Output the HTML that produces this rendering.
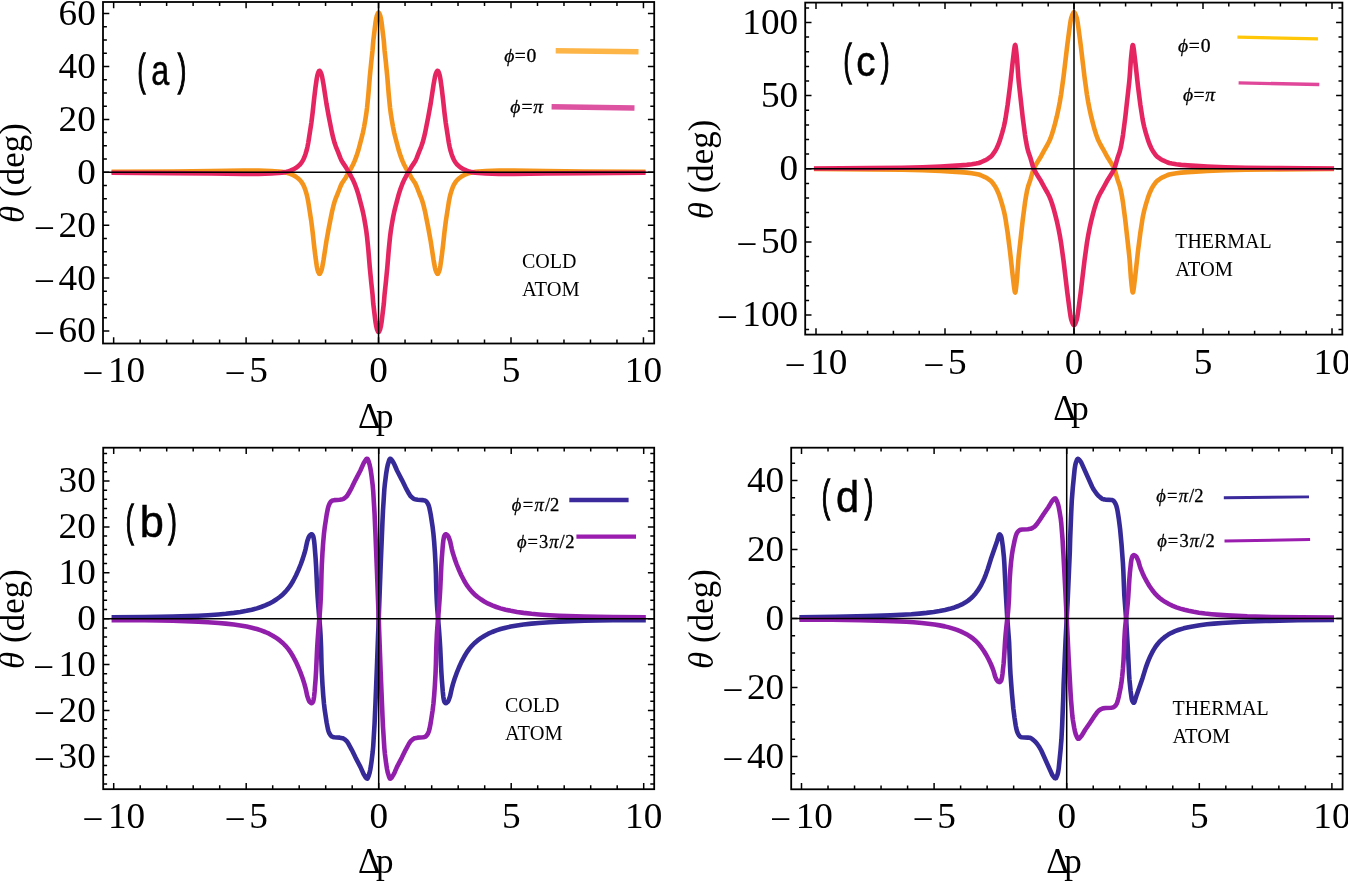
<!DOCTYPE html>
<html><head><meta charset="utf-8"><style>
html,body{margin:0;padding:0;background:#fff;}
body{width:1348px;height:882px;overflow:hidden;position:relative;}
svg{position:absolute;left:0;top:0;will-change:transform;}
.tl{font-family:"Liberation Serif",serif;font-size:35.8px;fill:#000;}
.ax{font-family:"Liberation Serif",serif;font-size:35px;fill:#000;}
.yl{font-family:"Liberation Serif",serif;font-size:35px;fill:#000;}
.pl{font-family:"Liberation Sans",sans-serif;font-size:46px;fill:#000;}
.an{font-family:"Liberation Serif",serif;font-size:20px;fill:#000;}
.lg{font-family:"Liberation Serif",serif;fill:#000;}
</style></head><body>
<svg width="1348" height="882" viewBox="0 0 1348 882">
<rect x="103" y="2" width="551.2" height="341.5" fill="none" stroke="#000" stroke-width="1.8"/>
<path d="M113.65 343.5v-6.3M113.65 2v6.3M140.14 343.5v-3.9M140.14 2v3.9M166.63 343.5v-3.9M166.63 2v3.9M193.12 343.5v-3.9M193.12 2v3.9M219.61 343.5v-3.9M219.61 2v3.9M246.1 343.5v-6.3M246.1 2v6.3M272.59 343.5v-3.9M272.59 2v3.9M299.08 343.5v-3.9M299.08 2v3.9M325.57 343.5v-3.9M325.57 2v3.9M352.06 343.5v-3.9M352.06 2v3.9M378.55 343.5v-6.3M378.55 2v6.3M405.04 343.5v-3.9M405.04 2v3.9M431.53 343.5v-3.9M431.53 2v3.9M458.02 343.5v-3.9M458.02 2v3.9M484.51 343.5v-3.9M484.51 2v3.9M511 343.5v-6.3M511 2v6.3M537.49 343.5v-3.9M537.49 2v3.9M563.98 343.5v-3.9M563.98 2v3.9M590.47 343.5v-3.9M590.47 2v3.9M616.96 343.5v-3.9M616.96 2v3.9M643.45 343.5v-6.3M643.45 2v6.3M103 331h6.3M654.2 331h-6.3M103 317.77h3.9M654.2 317.77h-3.9M103 304.55h3.9M654.2 304.55h-3.9M103 291.33h3.9M654.2 291.33h-3.9M103 278.1h6.3M654.2 278.1h-6.3M103 264.88h3.9M654.2 264.88h-3.9M103 251.65h3.9M654.2 251.65h-3.9M103 238.43h3.9M654.2 238.43h-3.9M103 225.2h6.3M654.2 225.2h-6.3M103 211.98h3.9M654.2 211.98h-3.9M103 198.75h3.9M654.2 198.75h-3.9M103 185.53h3.9M654.2 185.53h-3.9M103 172.3h6.3M654.2 172.3h-6.3M103 159.08h3.9M654.2 159.08h-3.9M103 145.85h3.9M654.2 145.85h-3.9M103 132.62h3.9M654.2 132.62h-3.9M103 119.4h6.3M654.2 119.4h-6.3M103 106.18h3.9M654.2 106.18h-3.9M103 92.95h3.9M654.2 92.95h-3.9M103 79.73h3.9M654.2 79.73h-3.9M103 66.5h6.3M654.2 66.5h-6.3M103 53.28h3.9M654.2 53.28h-3.9M103 40.05h3.9M654.2 40.05h-3.9M103 26.83h3.9M654.2 26.83h-3.9M103 13.6h6.3M654.2 13.6h-6.3" stroke="#000" stroke-width="1.5" fill="none"/>
<text transform="translate(95.8,342.4) scale(1.04,1)" text-anchor="end" class="tl"><tspan dy="3">−</tspan><tspan dx="3.6" dy="-3">60</tspan></text>
<text transform="translate(95.8,289.5) scale(1.04,1)" text-anchor="end" class="tl"><tspan dy="3">−</tspan><tspan dx="3.6" dy="-3">40</tspan></text>
<text transform="translate(95.8,236.6) scale(1.04,1)" text-anchor="end" class="tl"><tspan dy="3">−</tspan><tspan dx="3.6" dy="-3">20</tspan></text>
<text transform="translate(95.8,183.7) scale(1.04,1)" text-anchor="end" class="tl">0</text>
<text transform="translate(95.8,130.8) scale(1.04,1)" text-anchor="end" class="tl">20</text>
<text transform="translate(95.8,77.9) scale(1.04,1)" text-anchor="end" class="tl">40</text>
<text transform="translate(95.8,25) scale(1.04,1)" text-anchor="end" class="tl">60</text>
<text transform="translate(113.65,382) scale(1.04,1)" text-anchor="middle" class="tl"><tspan dy="3">−</tspan><tspan dx="4.5" dy="-3">10</tspan></text>
<text transform="translate(246.1,382) scale(1.04,1)" text-anchor="middle" class="tl"><tspan dy="3">−</tspan><tspan dx="3.6" dy="-3">5</tspan></text>
<text transform="translate(378.55,382) scale(1.04,1)" text-anchor="middle" class="tl">0</text>
<text transform="translate(511,382) scale(1.04,1)" text-anchor="middle" class="tl">5</text>
<text transform="translate(643.45,382) scale(1.04,1)" text-anchor="middle" class="tl">10</text>
<path d="M111.53 171.78L172.96 171.46L211.15 171.09L242.95 170.64L258.55 170.63L271.37 171.12L278.38 171.54L281.65 171.88L285.32 172.47L287.65 173.00L290.29 173.90L293.23 175.18L295.65 176.56L297.95 178.24L299.99 180.09L301.52 181.97L303.07 184.49L304.15 186.80L305.40 190.16L306.67 194.34L307.45 197.67L308.29 201.98L311.31 221.51L312.62 231.90L313.99 244.70L315.38 256.40L316.75 265.95L317.42 269.47L318.26 272.01L319.03 273.59L319.36 273.85L319.69 273.79L320.02 273.47L320.38 272.89L321.34 270.66L321.73 269.43L322.17 267.52L323.50 260.22L326.42 241.12L328.84 227.78L331.90 212.24L333.34 206.17L334.55 201.79L335.86 198.03L337.94 193.00L340.35 186.71L341.42 184.27L342.62 182.18L345.66 177.75L351.01 168.40L353.07 164.49L354.67 160.91L356.56 155.86L358.44 149.99L361.61 137.96L362.95 132.47L364.05 127.12L365.28 120.09L366.32 113.44L367.09 107.43L368.36 94.58L369.81 76.80L371.23 62.35L372.51 50.46L373.27 40.97L375.53 22.40L376.11 18.85L376.89 15.58L377.89 13.22L378.25 12.70L378.55 12.54L378.85 12.70L379.21 13.22L380.21 15.58L380.99 18.85L381.57 22.40L383.83 40.97L384.59 50.46L385.87 62.35L387.29 76.80L388.74 94.58L390.01 107.43L390.78 113.44L391.82 120.09L393.05 127.12L394.15 132.47L395.49 137.96L398.66 149.99L400.54 155.86L402.43 160.91L404.03 164.49L406.09 168.40L411.44 177.75L414.48 182.18L415.68 184.27L416.75 186.71L419.16 193.00L421.24 198.03L422.55 201.79L423.76 206.17L425.20 212.24L428.26 227.78L430.68 241.12L433.60 260.22L434.93 267.52L435.37 269.43L435.76 270.66L436.72 272.89L437.08 273.47L437.41 273.79L437.74 273.85L438.07 273.59L438.84 272.01L439.68 269.47L440.35 265.95L441.72 256.40L443.11 244.70L444.48 231.90L445.79 221.51L448.81 201.98L449.65 197.67L450.43 194.34L451.70 190.16L452.95 186.80L454.03 184.49L455.58 181.97L457.11 180.09L459.15 178.24L461.45 176.56L463.87 175.18L466.81 173.90L469.45 173.00L471.78 172.47L475.45 171.88L478.72 171.54L485.73 171.12L498.55 170.63L514.15 170.64L545.95 171.09L584.14 171.46L645.57 171.78" stroke="#F5941B" stroke-width="4.6" fill="none" stroke-linejoin="round" stroke-linecap="butt"/>
<path d="M111.53 172.82L172.96 173.14L211.15 173.51L242.95 173.96L258.55 173.97L271.37 173.48L278.38 173.06L281.65 172.72L285.32 172.13L287.65 171.60L290.29 170.70L293.23 169.42L295.65 168.04L297.95 166.36L299.99 164.51L301.52 162.63L303.07 160.11L304.15 157.80L305.40 154.44L306.67 150.26L307.45 146.93L308.29 142.62L311.31 123.09L312.62 112.70L313.99 99.90L315.38 88.20L316.75 78.65L317.42 75.13L318.26 72.59L319.03 71.01L319.36 70.75L319.69 70.81L320.02 71.13L320.38 71.71L321.34 73.94L321.73 75.17L322.17 77.08L323.50 84.38L326.42 103.48L328.84 116.82L331.90 132.36L333.34 138.43L334.55 142.81L335.86 146.57L337.94 151.60L340.35 157.89L341.42 160.33L342.62 162.42L345.66 166.85L351.01 176.20L353.07 180.11L354.67 183.69L356.56 188.74L358.44 194.61L361.61 206.64L362.95 212.13L364.05 217.48L365.28 224.51L366.32 231.16L367.09 237.17L368.36 250.02L369.81 267.80L371.23 282.25L372.51 294.14L373.27 303.63L375.53 322.20L376.11 325.75L376.89 329.02L377.89 331.38L378.25 331.90L378.55 332.06L378.85 331.90L379.21 331.38L380.21 329.02L380.99 325.75L381.57 322.20L383.83 303.63L384.59 294.14L385.87 282.25L387.29 267.80L388.74 250.02L390.01 237.17L390.78 231.16L391.82 224.51L393.05 217.48L394.15 212.13L395.49 206.64L398.66 194.61L400.54 188.74L402.43 183.69L404.03 180.11L406.09 176.20L411.44 166.85L414.48 162.42L415.68 160.33L416.75 157.89L419.16 151.60L421.24 146.57L422.55 142.81L423.76 138.43L425.20 132.36L428.26 116.82L430.68 103.48L433.60 84.38L434.93 77.08L435.37 75.17L435.76 73.94L436.72 71.71L437.08 71.13L437.41 70.81L437.74 70.75L438.07 71.01L438.84 72.59L439.68 75.13L440.35 78.65L441.72 88.20L443.11 99.90L444.48 112.70L445.79 123.09L448.81 142.62L449.65 146.93L450.43 150.26L451.70 154.44L452.95 157.80L454.03 160.11L455.58 162.63L457.11 164.51L459.15 166.36L461.45 168.04L463.87 169.42L466.81 170.70L469.45 171.60L471.78 172.13L475.45 172.72L478.72 173.06L485.73 173.48L498.55 173.97L514.15 173.96L545.95 173.51L584.14 173.14L645.57 172.82" stroke="#E52561" stroke-width="4.6" fill="none" stroke-linejoin="round" stroke-linecap="butt"/>
<path d="M103 172.3H654.2M378.55 2V343.5" stroke="#000" stroke-width="1.5" fill="none"/>
<rect x="805.2" y="2.6" width="537.2" height="332" fill="none" stroke="#000" stroke-width="1.8"/>
<path d="M816 334.6v-6.3M816 2.6v6.3M841.8 334.6v-3.9M841.8 2.6v3.9M867.6 334.6v-3.9M867.6 2.6v3.9M893.4 334.6v-3.9M893.4 2.6v3.9M919.2 334.6v-3.9M919.2 2.6v3.9M945 334.6v-6.3M945 2.6v6.3M970.8 334.6v-3.9M970.8 2.6v3.9M996.6 334.6v-3.9M996.6 2.6v3.9M1022.4 334.6v-3.9M1022.4 2.6v3.9M1048.2 334.6v-3.9M1048.2 2.6v3.9M1074 334.6v-6.3M1074 2.6v6.3M1099.8 334.6v-3.9M1099.8 2.6v3.9M1125.6 334.6v-3.9M1125.6 2.6v3.9M1151.4 334.6v-3.9M1151.4 2.6v3.9M1177.2 334.6v-3.9M1177.2 2.6v3.9M1203 334.6v-6.3M1203 2.6v6.3M1228.8 334.6v-3.9M1228.8 2.6v3.9M1254.6 334.6v-3.9M1254.6 2.6v3.9M1280.4 334.6v-3.9M1280.4 2.6v3.9M1306.2 334.6v-3.9M1306.2 2.6v3.9M1332 334.6v-6.3M1332 2.6v6.3M805.2 329.62h3.9M1342.4 329.62h-3.9M805.2 315h6.3M1342.4 315h-6.3M805.2 300.38h3.9M1342.4 300.38h-3.9M805.2 285.75h3.9M1342.4 285.75h-3.9M805.2 271.12h3.9M1342.4 271.12h-3.9M805.2 256.5h3.9M1342.4 256.5h-3.9M805.2 241.88h6.3M1342.4 241.88h-6.3M805.2 227.25h3.9M1342.4 227.25h-3.9M805.2 212.62h3.9M1342.4 212.62h-3.9M805.2 198h3.9M1342.4 198h-3.9M805.2 183.38h3.9M1342.4 183.38h-3.9M805.2 168.75h6.3M1342.4 168.75h-6.3M805.2 154.12h3.9M1342.4 154.12h-3.9M805.2 139.5h3.9M1342.4 139.5h-3.9M805.2 124.88h3.9M1342.4 124.88h-3.9M805.2 110.25h3.9M1342.4 110.25h-3.9M805.2 95.62h6.3M1342.4 95.62h-6.3M805.2 81h3.9M1342.4 81h-3.9M805.2 66.38h3.9M1342.4 66.38h-3.9M805.2 51.75h3.9M1342.4 51.75h-3.9M805.2 37.12h3.9M1342.4 37.12h-3.9M805.2 22.5h6.3M1342.4 22.5h-6.3M805.2 7.88h3.9M1342.4 7.88h-3.9" stroke="#000" stroke-width="1.5" fill="none"/>
<text transform="translate(798.2,326.4) scale(1.04,1)" text-anchor="end" class="tl"><tspan dy="3">−</tspan><tspan dx="4.5" dy="-3">100</tspan></text>
<text transform="translate(798.2,253.28) scale(1.04,1)" text-anchor="end" class="tl"><tspan dy="3">−</tspan><tspan dx="3.6" dy="-3">50</tspan></text>
<text transform="translate(798.2,180.15) scale(1.04,1)" text-anchor="end" class="tl">0</text>
<text transform="translate(798.2,107.03) scale(1.04,1)" text-anchor="end" class="tl">50</text>
<text transform="translate(798.2,33.9) scale(1.04,1)" text-anchor="end" class="tl">100</text>
<text transform="translate(816,374.1) scale(1.04,1)" text-anchor="middle" class="tl"><tspan dy="3">−</tspan><tspan dx="4.5" dy="-3">10</tspan></text>
<text transform="translate(945,374.1) scale(1.04,1)" text-anchor="middle" class="tl"><tspan dy="3">−</tspan><tspan dx="3.6" dy="-3">5</tspan></text>
<text transform="translate(1074,374.1) scale(1.04,1)" text-anchor="middle" class="tl">0</text>
<text transform="translate(1203,374.1) scale(1.04,1)" text-anchor="middle" class="tl">5</text>
<text transform="translate(1332,374.1) scale(1.04,1)" text-anchor="middle" class="tl">10</text>
<path d="M813.94 169.04L868.58 169.34L902.26 169.79L922.55 170.32L940.69 171.03L952.19 171.59L960.36 172.09L966.80 172.61L971.74 173.19L976.11 173.90L978.79 174.52L980.85 175.24L984.89 177.06L987.63 178.56L990.14 180.31L991.26 181.30L992.10 182.18L994.76 185.84L996.52 188.94L998.37 193.02L999.97 197.36L1002.19 204.58L1003.84 210.75L1004.73 214.70L1005.49 218.77L1007.63 232.60L1009.99 251.12L1012.60 274.77L1014.14 287.70L1014.72 291.41L1014.98 292.27L1015.21 292.47L1015.45 292.00L1015.69 290.83L1016.29 286.03L1017.21 276.44L1018.26 261.31L1018.75 255.64L1022.67 220.53L1024.95 202.97L1026.08 195.99L1027.08 190.61L1028.23 186.06L1030.57 179.20L1032.73 171.67L1033.69 168.90L1035.52 165.18L1040.32 157.59L1044.37 150.19L1047.46 144.75L1049.10 141.55L1050.52 138.27L1051.86 134.54L1053.33 129.77L1054.95 123.91L1056.78 116.65L1058.29 109.86L1059.86 101.75L1061.10 94.34L1063.49 77.09L1067.34 44.80L1069.65 27.23L1070.50 21.52L1071.21 18.07L1072.27 14.94L1073.21 12.90L1073.61 12.43L1074.00 12.26L1074.39 12.43L1074.79 12.90L1075.73 14.94L1076.79 18.07L1077.50 21.52L1078.35 27.23L1080.66 44.80L1084.51 77.09L1086.90 94.34L1088.14 101.75L1089.71 109.86L1091.22 116.65L1093.05 123.91L1094.67 129.77L1096.14 134.54L1097.48 138.27L1098.90 141.55L1100.54 144.75L1103.63 150.19L1107.68 157.59L1112.48 165.18L1114.31 168.90L1115.27 171.67L1117.43 179.20L1119.77 186.06L1120.92 190.61L1121.92 195.99L1123.05 202.97L1125.33 220.53L1129.25 255.64L1129.74 261.31L1130.79 276.44L1131.71 286.03L1132.31 290.83L1132.55 292.00L1132.79 292.47L1133.02 292.27L1133.28 291.41L1133.86 287.70L1135.40 274.77L1138.01 251.12L1140.37 232.60L1142.51 218.77L1143.27 214.70L1144.16 210.75L1145.81 204.58L1148.03 197.36L1149.63 193.02L1151.48 188.94L1153.24 185.84L1155.90 182.18L1156.74 181.30L1157.86 180.31L1160.37 178.56L1163.11 177.06L1167.15 175.24L1169.21 174.52L1171.89 173.90L1176.26 173.19L1181.20 172.61L1187.64 172.09L1195.81 171.59L1207.31 171.03L1225.45 170.32L1245.74 169.79L1279.42 169.34L1334.06 169.04" stroke="#F5941B" stroke-width="4.6" fill="none" stroke-linejoin="round" stroke-linecap="butt"/>
<path d="M813.94 168.46L868.58 168.16L902.26 167.71L922.55 167.18L940.69 166.47L952.19 165.91L960.36 165.41L966.80 164.89L971.74 164.31L976.11 163.60L978.79 162.98L980.85 162.26L984.89 160.44L987.63 158.94L990.14 157.19L991.26 156.20L992.10 155.32L994.76 151.66L996.52 148.56L998.37 144.48L999.97 140.14L1002.19 132.92L1003.84 126.75L1004.73 122.80L1005.49 118.73L1007.63 104.90L1009.99 86.38L1012.60 62.73L1014.14 49.80L1014.72 46.09L1014.98 45.23L1015.21 45.03L1015.45 45.50L1015.69 46.67L1016.29 51.47L1017.21 61.06L1018.26 76.19L1018.75 81.86L1022.67 116.97L1024.95 134.53L1026.08 141.51L1027.08 146.89L1028.23 151.44L1030.57 158.30L1032.73 165.83L1033.69 168.60L1035.52 172.32L1040.32 179.91L1044.37 187.31L1047.46 192.75L1049.10 195.95L1050.52 199.23L1051.86 202.96L1053.33 207.73L1054.95 213.59L1056.78 220.85L1058.29 227.64L1059.86 235.75L1061.10 243.16L1063.49 260.41L1067.34 292.70L1069.65 310.27L1070.50 315.98L1071.21 319.43L1072.27 322.56L1073.21 324.60L1073.61 325.07L1074.00 325.24L1074.39 325.07L1074.79 324.60L1075.73 322.56L1076.79 319.43L1077.50 315.98L1078.35 310.27L1080.66 292.70L1084.51 260.41L1086.90 243.16L1088.14 235.75L1089.71 227.64L1091.22 220.85L1093.05 213.59L1094.67 207.73L1096.14 202.96L1097.48 199.23L1098.90 195.95L1100.54 192.75L1103.63 187.31L1107.68 179.91L1112.48 172.32L1114.31 168.60L1115.27 165.83L1117.43 158.30L1119.77 151.44L1120.92 146.89L1121.92 141.51L1123.05 134.53L1125.33 116.97L1129.25 81.86L1129.74 76.19L1130.79 61.06L1131.71 51.47L1132.31 46.67L1132.55 45.50L1132.79 45.03L1133.02 45.23L1133.28 46.09L1133.86 49.80L1135.40 62.73L1138.01 86.38L1140.37 104.90L1142.51 118.73L1143.27 122.80L1144.16 126.75L1145.81 132.92L1148.03 140.14L1149.63 144.48L1151.48 148.56L1153.24 151.66L1155.90 155.32L1156.74 156.20L1157.86 157.19L1160.37 158.94L1163.11 160.44L1167.15 162.26L1169.21 162.98L1171.89 163.60L1176.26 164.31L1181.20 164.89L1187.64 165.41L1195.81 165.91L1207.31 166.47L1225.45 167.18L1245.74 167.71L1279.42 168.16L1334.06 168.46" stroke="#E52561" stroke-width="4.6" fill="none" stroke-linejoin="round" stroke-linecap="butt"/>
<path d="M805.2 168.75H1342.4M1074 2.6V334.6" stroke="#000" stroke-width="1.5" fill="none"/>
<rect x="103.2" y="447.7" width="551" height="341.5" fill="none" stroke="#000" stroke-width="1.8"/>
<path d="M113.7 789.2v-6.3M113.7 447.7v6.3M140.2 789.2v-3.9M140.2 447.7v3.9M166.7 789.2v-3.9M166.7 447.7v3.9M193.2 789.2v-3.9M193.2 447.7v3.9M219.7 789.2v-3.9M219.7 447.7v3.9M246.2 789.2v-6.3M246.2 447.7v6.3M272.7 789.2v-3.9M272.7 447.7v3.9M299.2 789.2v-3.9M299.2 447.7v3.9M325.7 789.2v-3.9M325.7 447.7v3.9M352.2 789.2v-3.9M352.2 447.7v3.9M378.7 789.2v-6.3M378.7 447.7v6.3M405.2 789.2v-3.9M405.2 447.7v3.9M431.7 789.2v-3.9M431.7 447.7v3.9M458.2 789.2v-3.9M458.2 447.7v3.9M484.7 789.2v-3.9M484.7 447.7v3.9M511.2 789.2v-6.3M511.2 447.7v6.3M537.7 789.2v-3.9M537.7 447.7v3.9M564.2 789.2v-3.9M564.2 447.7v3.9M590.7 789.2v-3.9M590.7 447.7v3.9M617.2 789.2v-3.9M617.2 447.7v3.9M643.7 789.2v-6.3M643.7 447.7v6.3M103.2 783.94h3.9M654.2 783.94h-3.9M103.2 774.76h3.9M654.2 774.76h-3.9M103.2 765.58h3.9M654.2 765.58h-3.9M103.2 756.4h6.3M654.2 756.4h-6.3M103.2 747.22h3.9M654.2 747.22h-3.9M103.2 738.04h3.9M654.2 738.04h-3.9M103.2 728.86h3.9M654.2 728.86h-3.9M103.2 719.68h3.9M654.2 719.68h-3.9M103.2 710.5h6.3M654.2 710.5h-6.3M103.2 701.32h3.9M654.2 701.32h-3.9M103.2 692.14h3.9M654.2 692.14h-3.9M103.2 682.96h3.9M654.2 682.96h-3.9M103.2 673.78h3.9M654.2 673.78h-3.9M103.2 664.6h6.3M654.2 664.6h-6.3M103.2 655.42h3.9M654.2 655.42h-3.9M103.2 646.24h3.9M654.2 646.24h-3.9M103.2 637.06h3.9M654.2 637.06h-3.9M103.2 627.88h3.9M654.2 627.88h-3.9M103.2 618.7h6.3M654.2 618.7h-6.3M103.2 609.52h3.9M654.2 609.52h-3.9M103.2 600.34h3.9M654.2 600.34h-3.9M103.2 591.16h3.9M654.2 591.16h-3.9M103.2 581.98h3.9M654.2 581.98h-3.9M103.2 572.8h6.3M654.2 572.8h-6.3M103.2 563.62h3.9M654.2 563.62h-3.9M103.2 554.44h3.9M654.2 554.44h-3.9M103.2 545.26h3.9M654.2 545.26h-3.9M103.2 536.08h3.9M654.2 536.08h-3.9M103.2 526.9h6.3M654.2 526.9h-6.3M103.2 517.72h3.9M654.2 517.72h-3.9M103.2 508.54h3.9M654.2 508.54h-3.9M103.2 499.36h3.9M654.2 499.36h-3.9M103.2 490.18h3.9M654.2 490.18h-3.9M103.2 481h6.3M654.2 481h-6.3M103.2 471.82h3.9M654.2 471.82h-3.9M103.2 462.64h3.9M654.2 462.64h-3.9M103.2 453.46h3.9M654.2 453.46h-3.9" stroke="#000" stroke-width="1.5" fill="none"/>
<text transform="translate(95.8,767.8) scale(1.04,1)" text-anchor="end" class="tl"><tspan dy="3">−</tspan><tspan dx="3.6" dy="-3">30</tspan></text>
<text transform="translate(95.8,721.9) scale(1.04,1)" text-anchor="end" class="tl"><tspan dy="3">−</tspan><tspan dx="3.6" dy="-3">20</tspan></text>
<text transform="translate(95.8,676) scale(1.04,1)" text-anchor="end" class="tl"><tspan dy="3">−</tspan><tspan dx="4.5" dy="-3">10</tspan></text>
<text transform="translate(95.8,630.1) scale(1.04,1)" text-anchor="end" class="tl">0</text>
<text transform="translate(95.8,584.2) scale(1.04,1)" text-anchor="end" class="tl">10</text>
<text transform="translate(95.8,538.3) scale(1.04,1)" text-anchor="end" class="tl">20</text>
<text transform="translate(95.8,492.4) scale(1.04,1)" text-anchor="end" class="tl">30</text>
<text transform="translate(113.7,827.7) scale(1.04,1)" text-anchor="middle" class="tl"><tspan dy="3">−</tspan><tspan dx="4.5" dy="-3">10</tspan></text>
<text transform="translate(246.2,827.7) scale(1.04,1)" text-anchor="middle" class="tl"><tspan dy="3">−</tspan><tspan dx="3.6" dy="-3">5</tspan></text>
<text transform="translate(378.7,827.7) scale(1.04,1)" text-anchor="middle" class="tl">0</text>
<text transform="translate(511.2,827.7) scale(1.04,1)" text-anchor="middle" class="tl">5</text>
<text transform="translate(643.7,827.7) scale(1.04,1)" text-anchor="middle" class="tl">10</text>
<path d="M111.58 617.32L144.47 617.11L159.70 616.91L172.91 616.61L198.23 615.73L207.92 615.19L218.47 614.44L225.79 613.78L233.82 612.85L240.34 611.92L246.58 610.82L251.80 609.69L256.89 608.35L261.04 607.01L265.23 605.40L269.10 603.68L272.75 601.71L276.62 599.27L280.04 596.75L283.05 594.15L285.54 591.62L288.14 588.52L290.63 585.08L293.09 580.95L296.06 575.26L298.48 569.91L300.87 564.00L302.78 558.64L304.46 553.30L305.53 549.35L307.27 541.33L308.65 537.38L309.36 535.95L310.05 535.16L311.19 534.36L311.69 534.24L312.01 534.34L312.60 534.99L313.17 536.06L313.56 537.63L314.04 540.32L314.60 545.61L315.62 558.45L316.12 566.72L317.11 587.99L317.59 596.20L318.37 607.18L320.04 627.23L320.55 634.98L321.09 647.39L321.49 663.76L321.83 672.79L322.47 684.71L323.24 695.51L323.99 703.83L324.75 710.15L326.65 722.65L327.87 728.88L328.54 731.39L329.45 733.58L330.56 735.30L331.20 736.03L331.74 736.49L332.85 736.94L334.30 737.27L339.76 737.66L342.51 738.15L343.53 738.60L344.65 739.33L346.24 740.67L347.02 741.51L348.50 743.80L351.76 749.85L355.54 757.57L360.39 766.90L363.58 774.06L365.87 777.73L366.56 778.43L367.17 778.66L367.46 778.53L367.77 778.13L368.47 776.45L369.60 772.77L370.30 769.50L370.99 765.47L371.66 760.47L372.67 752.11L373.20 746.35L374.55 724.02L375.43 704.12L377.10 662.66L380.73 563.68L382.48 521.37L382.99 510.76L384.32 489.54L384.87 483.99L386.12 473.98L386.94 468.77L387.78 464.73L389.17 460.28L389.63 459.27L390.06 458.79L390.32 458.74L390.68 458.87L391.41 459.52L392.14 460.55L393.78 463.27L394.63 465.01L397.01 470.50L401.86 479.83L405.65 487.57L408.91 493.62L410.39 495.91L411.20 496.76L412.77 498.08L413.87 498.80L414.89 499.25L417.64 499.74L423.09 500.13L424.52 500.45L425.64 500.90L426.17 501.34L426.80 502.05L427.92 503.77L428.85 505.97L429.51 508.46L430.73 514.67L432.64 527.16L433.40 533.44L434.15 541.73L434.92 552.47L435.57 564.61L435.91 573.64L436.31 590.01L436.87 602.65L437.36 610.17L439.03 630.22L439.81 641.20L440.29 649.41L441.28 670.68L441.78 678.95L442.80 691.79L443.36 697.08L443.84 699.77L444.23 701.34L444.80 702.41L445.39 703.06L445.71 703.16L446.21 703.04L447.35 702.24L448.04 701.45L448.75 700.02L450.13 696.07L451.87 688.05L452.94 684.10L454.62 678.76L456.53 673.40L458.92 667.49L461.34 662.14L464.31 656.45L466.77 652.32L469.26 648.88L471.86 645.78L474.35 643.25L477.36 640.65L480.78 638.13L484.65 635.69L488.30 633.72L492.17 632.00L496.36 630.39L500.51 629.05L505.60 627.71L510.82 626.58L517.06 625.48L523.58 624.55L531.61 623.62L538.93 622.96L549.48 622.21L559.16 621.67L584.49 620.79L597.70 620.49L612.93 620.29L645.82 620.08" stroke="#352A97" stroke-width="4.6" fill="none" stroke-linejoin="round" stroke-linecap="butt"/>
<path d="M111.58 620.08L144.47 620.29L159.70 620.49L172.91 620.79L198.23 621.67L207.92 622.21L218.47 622.96L225.79 623.62L233.82 624.55L240.34 625.48L246.58 626.58L251.80 627.71L256.89 629.05L261.04 630.39L265.23 632.00L269.10 633.72L272.75 635.69L276.62 638.13L280.04 640.65L283.05 643.25L285.54 645.78L288.14 648.88L290.63 652.32L293.09 656.45L296.06 662.14L298.48 667.49L300.87 673.40L302.78 678.76L304.46 684.10L305.53 688.05L307.27 696.07L308.65 700.02L309.36 701.45L310.05 702.24L311.19 703.04L311.69 703.16L312.01 703.06L312.60 702.41L313.17 701.34L313.56 699.77L314.04 697.08L314.60 691.79L315.62 678.95L316.12 670.68L317.11 649.41L317.59 641.20L318.37 630.22L320.04 610.17L320.55 602.42L321.09 590.01L321.49 573.64L321.83 564.61L322.47 552.69L323.24 541.89L323.99 533.57L324.75 527.25L326.65 514.75L327.87 508.52L328.54 506.01L329.45 503.82L330.56 502.10L331.20 501.37L331.74 500.91L332.85 500.46L334.30 500.13L339.76 499.74L342.51 499.25L343.53 498.80L344.65 498.07L346.24 496.73L347.02 495.89L348.50 493.60L351.76 487.55L355.54 479.83L360.39 470.50L363.58 463.34L365.87 459.67L366.56 458.97L367.17 458.74L367.46 458.87L367.77 459.27L368.47 460.95L369.60 464.63L370.30 467.90L370.99 471.93L371.66 476.93L372.67 485.29L373.20 491.05L374.55 513.38L375.43 533.28L377.10 574.74L380.73 673.72L382.48 716.03L382.99 726.64L384.32 747.86L384.87 753.41L386.12 763.42L386.94 768.63L387.78 772.67L389.17 777.12L389.63 778.13L390.06 778.61L390.32 778.66L390.68 778.53L391.41 777.88L392.14 776.85L393.78 774.13L394.63 772.39L397.01 766.90L401.86 757.57L405.65 749.83L408.91 743.78L410.39 741.49L411.20 740.64L412.77 739.32L413.87 738.60L414.89 738.15L417.64 737.66L423.09 737.27L424.52 736.95L425.64 736.50L426.17 736.06L426.80 735.35L427.92 733.63L428.85 731.43L429.51 728.94L430.73 722.73L432.64 710.24L433.40 703.96L434.15 695.67L434.92 684.93L435.57 672.79L435.91 663.76L436.31 647.39L436.87 634.75L437.36 627.23L439.03 607.18L439.81 596.20L440.29 587.99L441.28 566.72L441.78 558.45L442.80 545.61L443.36 540.32L443.84 537.63L444.23 536.06L444.80 534.99L445.39 534.34L445.71 534.24L446.21 534.36L447.35 535.16L448.04 535.95L448.75 537.38L450.13 541.33L451.87 549.35L452.94 553.30L454.62 558.64L456.53 564.00L458.92 569.91L461.34 575.26L464.31 580.95L466.77 585.08L469.26 588.52L471.86 591.62L474.35 594.15L477.36 596.75L480.78 599.27L484.65 601.71L488.30 603.68L492.17 605.40L496.36 607.01L500.51 608.35L505.60 609.69L510.82 610.82L517.06 611.92L523.58 612.85L531.61 613.78L538.93 614.44L549.48 615.19L559.16 615.73L584.49 616.61L597.70 616.91L612.93 617.11L645.82 617.32" stroke="#921FAB" stroke-width="4.6" fill="none" stroke-linejoin="round" stroke-linecap="butt"/>
<path d="M103.2 618.7H654.2M378.7 447.7V789.2" stroke="#000" stroke-width="1.5" fill="none"/>
<rect x="791.2" y="447.7" width="551.4" height="341.6" fill="none" stroke="#000" stroke-width="1.8"/>
<path d="M801.5 789.3v-6.3M801.5 447.7v6.3M828.02 789.3v-3.9M828.02 447.7v3.9M854.54 789.3v-3.9M854.54 447.7v3.9M881.06 789.3v-3.9M881.06 447.7v3.9M907.58 789.3v-3.9M907.58 447.7v3.9M934.1 789.3v-6.3M934.1 447.7v6.3M960.62 789.3v-3.9M960.62 447.7v3.9M987.14 789.3v-3.9M987.14 447.7v3.9M1013.66 789.3v-3.9M1013.66 447.7v3.9M1040.18 789.3v-3.9M1040.18 447.7v3.9M1066.7 789.3v-6.3M1066.7 447.7v6.3M1093.22 789.3v-3.9M1093.22 447.7v3.9M1119.74 789.3v-3.9M1119.74 447.7v3.9M1146.26 789.3v-3.9M1146.26 447.7v3.9M1172.78 789.3v-3.9M1172.78 447.7v3.9M1199.3 789.3v-6.3M1199.3 447.7v6.3M1225.82 789.3v-3.9M1225.82 447.7v3.9M1252.34 789.3v-3.9M1252.34 447.7v3.9M1278.86 789.3v-3.9M1278.86 447.7v3.9M1305.38 789.3v-3.9M1305.38 447.7v3.9M1331.9 789.3v-6.3M1331.9 447.7v6.3M791.2 773.85h3.9M1342.6 773.85h-3.9M791.2 756.6h6.3M1342.6 756.6h-6.3M791.2 739.35h3.9M1342.6 739.35h-3.9M791.2 722.1h3.9M1342.6 722.1h-3.9M791.2 704.85h3.9M1342.6 704.85h-3.9M791.2 687.6h6.3M1342.6 687.6h-6.3M791.2 670.35h3.9M1342.6 670.35h-3.9M791.2 653.1h3.9M1342.6 653.1h-3.9M791.2 635.85h3.9M1342.6 635.85h-3.9M791.2 618.6h6.3M1342.6 618.6h-6.3M791.2 601.35h3.9M1342.6 601.35h-3.9M791.2 584.1h3.9M1342.6 584.1h-3.9M791.2 566.85h3.9M1342.6 566.85h-3.9M791.2 549.6h6.3M1342.6 549.6h-6.3M791.2 532.35h3.9M1342.6 532.35h-3.9M791.2 515.1h3.9M1342.6 515.1h-3.9M791.2 497.85h3.9M1342.6 497.85h-3.9M791.2 480.6h6.3M1342.6 480.6h-6.3M791.2 463.35h3.9M1342.6 463.35h-3.9" stroke="#000" stroke-width="1.5" fill="none"/>
<text transform="translate(784.2,768) scale(1.04,1)" text-anchor="end" class="tl"><tspan dy="3">−</tspan><tspan dx="3.6" dy="-3">40</tspan></text>
<text transform="translate(784.2,699) scale(1.04,1)" text-anchor="end" class="tl"><tspan dy="3">−</tspan><tspan dx="3.6" dy="-3">20</tspan></text>
<text transform="translate(784.2,630) scale(1.04,1)" text-anchor="end" class="tl">0</text>
<text transform="translate(784.2,561) scale(1.04,1)" text-anchor="end" class="tl">20</text>
<text transform="translate(784.2,492) scale(1.04,1)" text-anchor="end" class="tl">40</text>
<text transform="translate(801.5,827.8) scale(1.04,1)" text-anchor="middle" class="tl"><tspan dy="3">−</tspan><tspan dx="4.5" dy="-3">10</tspan></text>
<text transform="translate(934.1,827.8) scale(1.04,1)" text-anchor="middle" class="tl"><tspan dy="3">−</tspan><tspan dx="3.6" dy="-3">5</tspan></text>
<text transform="translate(1066.7,827.8) scale(1.04,1)" text-anchor="middle" class="tl">0</text>
<text transform="translate(1199.3,827.8) scale(1.04,1)" text-anchor="middle" class="tl">5</text>
<text transform="translate(1331.9,827.8) scale(1.04,1)" text-anchor="middle" class="tl">10</text>
<path d="M799.38 617.34L835.15 616.88L868.00 616.17L890.51 615.40L911.39 614.24L919.41 613.59L926.52 612.87L933.70 611.96L939.51 611.05L944.99 609.98L949.72 608.84L954.48 607.43L958.33 606.01L961.87 604.39L965.13 602.59L968.11 600.59L971.00 598.27L973.27 596.10L975.58 593.45L978.00 590.21L979.82 587.33L981.48 584.30L983.25 580.70L984.50 577.88L985.81 574.58L987.62 569.55L990.79 559.32L997.15 540.90L998.62 535.99L998.97 535.13L999.29 534.61L999.56 534.42L999.91 534.52L1000.51 535.18L1001.21 536.52L1001.71 538.61L1002.80 546.24L1003.93 557.23L1004.36 563.62L1005.66 590.25L1007.15 616.30L1009.09 642.15L1010.08 666.92L1010.46 673.77L1011.90 693.20L1013.33 708.46L1014.51 717.76L1015.69 725.39L1016.25 728.38L1017.05 731.31L1017.88 733.43L1019.11 735.54L1019.60 736.10L1020.30 736.67L1020.98 737.09L1021.55 737.27L1027.98 737.61L1029.66 737.81L1030.51 738.07L1031.84 738.81L1033.51 740.12L1035.33 741.75L1036.85 743.49L1039.48 747.28L1041.28 750.50L1052.18 774.77L1052.82 775.80L1054.24 777.54L1054.94 778.14L1055.56 778.34L1055.95 778.13L1056.37 777.49L1057.50 774.65L1058.07 772.33L1058.69 768.67L1060.51 750.51L1061.42 739.56L1062.15 725.47L1063.25 697.95L1063.62 684.82L1065.49 641.82L1067.61 601.62L1068.81 574.76L1069.79 552.04L1070.15 539.25L1071.20 513.03L1071.78 500.76L1072.77 487.99L1074.67 468.80L1075.28 465.14L1075.84 462.76L1076.88 460.00L1077.28 459.29L1077.64 458.92L1077.88 458.87L1078.25 458.95L1079.01 459.50L1080.56 461.37L1081.19 462.38L1092.13 486.73L1093.05 488.48L1093.99 490.03L1096.60 493.78L1098.11 495.49L1099.97 497.15L1101.59 498.41L1102.90 499.14L1103.74 499.39L1105.43 499.59L1111.85 499.93L1112.42 500.11L1113.10 500.53L1113.80 501.10L1114.29 501.66L1115.52 503.77L1116.35 505.89L1117.15 508.82L1117.71 511.81L1118.89 519.44L1120.07 528.74L1121.50 544.00L1122.94 563.43L1123.32 570.28L1124.31 595.05L1126.25 620.90L1127.74 646.95L1129.04 673.58L1129.47 679.97L1130.60 690.96L1131.69 698.59L1132.19 700.68L1132.89 702.02L1133.49 702.68L1133.84 702.78L1134.11 702.59L1134.43 702.07L1134.78 701.21L1136.25 696.30L1142.61 677.88L1145.78 667.65L1147.59 662.62L1148.90 659.32L1150.15 656.50L1151.92 652.90L1153.58 649.87L1155.40 646.99L1157.82 643.75L1160.13 641.10L1162.40 638.93L1165.29 636.61L1168.27 634.61L1171.53 632.81L1175.07 631.19L1178.92 629.77L1183.68 628.36L1188.41 627.22L1193.89 626.15L1199.70 625.24L1206.88 624.33L1213.99 623.61L1222.01 622.96L1242.89 621.80L1265.40 621.03L1298.25 620.32L1334.02 619.86" stroke="#352A97" stroke-width="4.6" fill="none" stroke-linejoin="round" stroke-linecap="butt"/>
<path d="M799.38 619.64L832.29 619.79L860.76 620.17L886.10 620.83L906.35 621.81L913.68 622.30L921.72 623.00L928.24 623.70L934.48 624.52L939.71 625.37L944.80 626.38L948.95 627.39L953.14 628.59L957.01 629.89L960.67 631.37L964.54 633.21L967.97 635.10L970.98 637.05L973.47 638.95L976.07 641.28L978.56 643.87L981.03 646.97L984.00 651.25L986.42 655.27L988.81 659.72L990.72 663.75L992.40 667.75L993.48 670.73L995.22 676.75L996.59 679.72L997.31 680.80L998.00 681.39L999.14 682.00L999.64 682.08L999.96 682.00L1000.55 681.52L1001.12 680.72L1001.51 679.53L1001.99 677.51L1002.55 673.54L1003.57 663.88L1004.07 657.67L1005.07 641.68L1005.54 635.51L1006.33 627.26L1008.00 612.19L1008.50 606.36L1009.05 597.04L1009.44 584.73L1009.79 577.94L1010.42 568.98L1011.19 560.87L1011.95 554.61L1012.71 549.87L1014.61 540.47L1015.83 535.78L1016.50 533.90L1017.41 532.25L1018.53 530.96L1019.71 530.06L1020.82 529.73L1022.27 529.48L1027.73 529.19L1030.49 528.82L1031.51 528.48L1032.62 527.93L1034.21 526.92L1035.00 526.29L1036.48 524.57L1039.74 520.02L1043.52 514.22L1048.37 507.21L1051.57 501.83L1053.86 499.07L1054.55 498.54L1055.16 498.37L1055.46 498.47L1055.76 498.77L1056.46 500.03L1057.59 502.79L1058.29 505.25L1058.98 508.29L1059.66 512.04L1060.67 518.32L1061.20 522.65L1062.55 539.44L1063.42 554.39L1065.10 585.56L1068.73 659.96L1070.48 691.75L1071.00 699.73L1072.32 715.68L1072.88 719.85L1074.13 727.38L1074.95 731.29L1075.78 734.33L1077.18 737.67L1077.64 738.43L1078.06 738.80L1078.69 738.74L1079.42 738.24L1081.79 735.43L1082.64 734.12L1085.03 729.99L1089.88 722.98L1093.67 717.16L1096.93 712.61L1098.42 710.90L1099.23 710.25L1100.79 709.26L1101.89 708.72L1102.91 708.38L1105.67 708.01L1111.12 707.72L1112.55 707.48L1113.68 707.14L1114.83 706.28L1115.96 704.99L1116.89 703.33L1117.55 701.46L1118.77 696.79L1120.68 687.40L1121.44 682.68L1122.19 676.45L1122.96 668.38L1123.61 659.26L1123.96 652.47L1124.35 640.16L1124.91 630.66L1125.40 625.01L1127.07 609.94L1127.86 601.69L1128.33 595.52L1129.33 579.53L1129.83 573.32L1130.85 563.66L1131.41 559.69L1131.89 557.67L1132.28 556.48L1132.85 555.68L1133.44 555.20L1133.76 555.12L1134.26 555.20L1135.40 555.81L1136.09 556.40L1136.81 557.48L1138.18 560.45L1139.92 566.47L1141.00 569.45L1142.68 573.45L1144.59 577.48L1146.98 581.93L1149.40 585.95L1152.37 590.23L1154.84 593.33L1157.33 595.92L1159.93 598.25L1162.42 600.15L1165.43 602.10L1168.86 603.99L1172.73 605.83L1176.39 607.31L1180.26 608.61L1184.45 609.81L1188.60 610.82L1193.69 611.83L1198.92 612.68L1205.16 613.50L1211.68 614.20L1219.72 614.90L1227.05 615.39L1247.30 616.37L1272.64 617.03L1301.11 617.41L1334.02 617.56" stroke="#921FAB" stroke-width="4.6" fill="none" stroke-linejoin="round" stroke-linecap="butt"/>
<path d="M791.2 618.6H1342.6M1066.7 447.7V789.3" stroke="#000" stroke-width="1.5" fill="none"/>
<text stroke="#000" stroke-width="1.4" transform="translate(137.60,84.50) scale(0.543,1)" font-family="Liberation Sans" font-style="normal" font-size="44.44">(</text>
<text stroke="#000" stroke-width="0.5" transform="translate(151.28,85.24) scale(0.777,1)" font-family="Liberation Sans" font-style="normal" font-size="41.62">a</text>
<text stroke="#000" stroke-width="1.4" transform="translate(177.65,84.50) scale(0.577,1)" font-family="Liberation Sans" font-style="normal" font-size="44.44">)</text>
<text stroke="#000" stroke-width="1.4" transform="translate(843.48,75.20) scale(0.552,1)" font-family="Liberation Sans" font-style="normal" font-size="44.44">(</text>
<text stroke="#000" stroke-width="0.5" transform="translate(856.21,76.34) scale(0.925,1)" font-family="Liberation Sans" font-style="normal" font-size="41.62">c</text>
<text stroke="#000" stroke-width="1.4" transform="translate(881.05,75.20) scale(0.577,1)" font-family="Liberation Sans" font-style="normal" font-size="44.44">)</text>
<text stroke="#000" stroke-width="1.4" transform="translate(125.80,536.30) scale(0.543,1)" font-family="Liberation Sans" font-style="normal" font-size="44.44">(</text>
<text stroke="#000" stroke-width="0.5" transform="translate(139.86,537.41) scale(0.962,1)" font-family="Liberation Sans" font-style="normal" font-size="45.07">b</text>
<text stroke="#000" stroke-width="1.4" transform="translate(168.35,536.30) scale(0.577,1)" font-family="Liberation Sans" font-style="normal" font-size="44.44">)</text>
<text stroke="#000" stroke-width="1.4" transform="translate(821.66,511.30) scale(0.560,1)" font-family="Liberation Sans" font-style="normal" font-size="44.44">(</text>
<text stroke="#000" stroke-width="0.5" transform="translate(835.90,512.41) scale(0.923,1)" font-family="Liberation Sans" font-style="normal" font-size="45.07">d</text>
<text stroke="#000" stroke-width="1.4" transform="translate(864.65,511.30) scale(0.577,1)" font-family="Liberation Sans" font-style="normal" font-size="44.44">)</text>
<text x="358.0" y="427.5" class="ax">Δ<tspan dx="-4.45">p</tspan></text>
<text x="358.0" y="873.3" class="ax">Δ<tspan dx="-4.45">p</tspan></text>
<text x="1053.3" y="419.5" class="ax">Δ<tspan dx="-4.45">p</tspan></text>
<text x="1046.2" y="873.3" class="ax">Δ<tspan dx="-4.45">p</tspan></text>
<text transform="translate(23.6,173.0) rotate(-90)" text-anchor="middle" class="yl"><tspan font-style="italic">θ</tspan> (deg)</text>
<text transform="translate(712.6,169.4) rotate(-90)" text-anchor="middle" class="yl"><tspan font-style="italic">θ</tspan> (deg)</text>
<text transform="translate(23.6,619.0) rotate(-90)" text-anchor="middle" class="yl"><tspan font-style="italic">θ</tspan> (deg)</text>
<text transform="translate(712.6,619.0) rotate(-90)" text-anchor="middle" class="yl"><tspan font-style="italic">θ</tspan> (deg)</text>
<text x="522.0" y="268.0" class="an" textLength="54.5" lengthAdjust="spacingAndGlyphs">COLD</text><text x="522.0" y="295.9" class="an" textLength="57.6" lengthAdjust="spacingAndGlyphs">ATOM</text>
<text x="1175.3" y="247.6" class="an" textLength="96.3" lengthAdjust="spacingAndGlyphs">THERMAL</text><text x="1175.3" y="275.8" class="an" textLength="57.6" lengthAdjust="spacingAndGlyphs">ATOM</text>
<text x="505.0" y="711.9" class="an" textLength="54.5" lengthAdjust="spacingAndGlyphs">COLD</text><text x="505.0" y="740.1" class="an" textLength="57.6" lengthAdjust="spacingAndGlyphs">ATOM</text>
<text x="1172.5" y="714.7" class="an" textLength="96.3" lengthAdjust="spacingAndGlyphs">THERMAL</text><text x="1172.5" y="743.2" class="an" textLength="57.6" lengthAdjust="spacingAndGlyphs">ATOM</text>
<path d="M555.7 50.7L638.5 51.7" stroke="#FDB548" stroke-width="5.6"/>
<path d="M551.6 106.75L634.5 108.0" stroke="#DD52A1" stroke-width="5.6"/>
<path d="M1237.4 37.1L1318.0 38.9" stroke="#FFC708" stroke-width="3.3"/>
<path d="M1238.6 82.9L1319.3 84.5" stroke="#E0479A" stroke-width="3.3"/>
<path d="M569.3 500.0L628.6 500.0" stroke="#3A2A9C" stroke-width="4.3"/>
<path d="M576.4 536.6L636.0 536.6" stroke="#9A1DB0" stroke-width="4.1"/>
<path d="M1223.8 497.8L1309.0 496.9" stroke="#3A2A9C" stroke-width="2.9"/>
<path d="M1224.5 541.0L1310.1 539.5" stroke="#9A1DB0" stroke-width="3.0"/>
<text y="62.1" class="lg" font-size="19.6" stroke="#000" stroke-width="0.3"><tspan x="504.15" font-style="italic">ϕ</tspan><tspan x="514.72">=</tspan><tspan x="526.45">0</tspan></text>
<text y="112.5" class="lg" font-size="19.6" stroke="#000" stroke-width="0.3"><tspan x="510.25" font-style="italic">ϕ</tspan><tspan x="521.42">=</tspan><tspan x="533.19" font-style="italic">π</tspan></text>
<text y="52.4" class="lg" font-size="19.6" stroke="#000" stroke-width="0.3"><tspan x="1178.10" font-style="italic">ϕ</tspan><tspan x="1188.82">=</tspan><tspan x="1200.65">0</tspan></text>
<text y="100.7" class="lg" font-size="19.6" stroke="#000" stroke-width="0.3"><tspan x="1183.05" font-style="italic">ϕ</tspan><tspan x="1193.52">=</tspan><tspan x="1205.29" font-style="italic">π</tspan></text>
<text y="511.3" class="lg" font-size="18.5" stroke="#000" stroke-width="0.3"><tspan x="511.78" font-style="italic">ϕ</tspan><tspan x="522.68">=</tspan><tspan x="534.50" font-style="italic">π</tspan><tspan x="545.00">/</tspan><tspan x="549.89">2</tspan></text>
<text y="547.9" class="lg" font-size="18.5" stroke="#000" stroke-width="0.3"><tspan x="516.98" font-style="italic">ϕ</tspan><tspan x="527.58">=</tspan><tspan x="538.91">3</tspan><tspan x="549.30" font-style="italic">π</tspan><tspan x="559.50">/</tspan><tspan x="565.29">2</tspan></text>
<text y="502.3" class="lg" font-size="18.5" stroke="#000" stroke-width="0.3"><tspan x="1156.18" font-style="italic">ϕ</tspan><tspan x="1167.08">=</tspan><tspan x="1178.70" font-style="italic">π</tspan><tspan x="1189.00">/</tspan><tspan x="1194.29">2</tspan></text>
<text y="546.8" class="lg" font-size="18.5" stroke="#000" stroke-width="0.3"><tspan x="1157.18" font-style="italic">ϕ</tspan><tspan x="1167.78">=</tspan><tspan x="1179.41">3</tspan><tspan x="1189.80" font-style="italic">π</tspan><tspan x="1199.80">/</tspan><tspan x="1205.49">2</tspan></text>
</svg>
</body></html>
